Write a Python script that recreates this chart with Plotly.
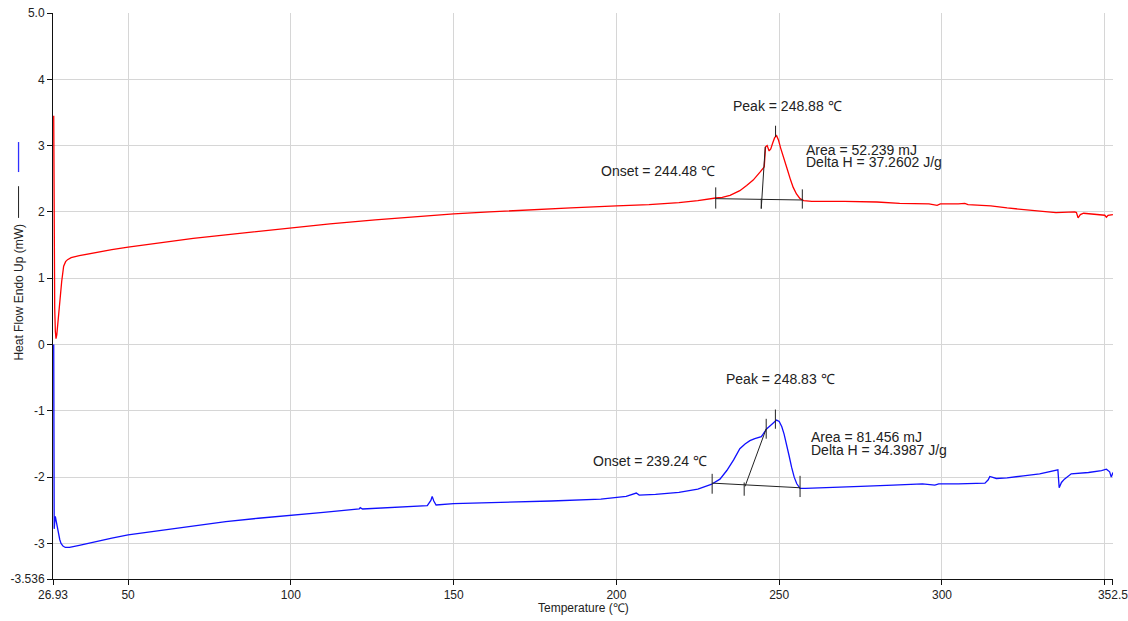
import plotly.graph_objects as go

# ---------------- data ----------------
red_temp = [27.15, 27.17, 27.2, 27.3, 27.45, 27.65, 27.85, 28.1, 28.5, 29.0, 29.6, 30.2, 30.8, 31.4,
            32.5, 35, 40, 45, 50, 60, 70, 80, 90, 100, 112, 125.9, 138, 150, 161, 172.5, 186, 200,
            210, 219.2, 225, 230.5, 232.5, 234.9, 237.9, 240, 242, 244.1, 245.4, 245.8, 246.3, 246.9,
            247.4, 248.0, 248.6, 249.2, 249.8, 250.4, 251.2, 252.5, 253.5, 254.3, 255.3, 256.4, 257.5,
            260, 270, 280, 287, 292, 296, 298.5, 299.5, 305, 307, 308, 315, 320, 330, 335, 340.8,
            341.3, 341.8, 342.5, 343.5, 346, 350, 350.5, 351, 352.5]
red_hf = [3.45, 2.8, 1.9, 1.15, 0.55, 0.2, 0.09, 0.15, 0.38, 0.62, 0.95, 1.18, 1.25, 1.28,
          1.31, 1.34, 1.39, 1.43, 1.47, 1.54, 1.60, 1.655, 1.71, 1.76, 1.82, 1.88, 1.93, 1.97, 2.00, 2.03, 2.06, 2.09,
          2.11, 2.14, 2.17, 2.21, 2.22, 2.25, 2.32, 2.40, 2.48, 2.60, 2.68, 2.98, 3.00, 2.92,
          2.95, 3.04, 3.12, 3.15, 3.08, 2.97, 2.83, 2.64, 2.48, 2.37, 2.27, 2.20, 2.17,
          2.16, 2.16, 2.15, 2.13, 2.12, 2.12, 2.10, 2.12, 2.12, 2.13, 2.11, 2.09, 2.06, 2.01, 1.99, 2.00,
          1.99, 1.91, 1.96, 1.98, 1.97, 1.95, 1.92, 1.95, 1.96]

blue_temp = [27.15, 27.17, 27.2, 27.3, 27.45, 27.65, 27.9, 28.3, 28.65, 29.0, 29.4, 30.0, 30.7, 32,
             35, 40, 45, 50, 60, 70, 80, 90, 100, 110, 121, 121.3, 122, 130, 141.9, 143.0, 143.4, 143.9,
             144.6, 150, 160, 169.9, 180, 195.2, 203, 206.1, 207, 212, 219.2, 225, 229.1, 231.8, 233.9,
             236, 237.9, 239.5, 241.0, 242.5, 244.5, 246.2, 247.7, 249.2, 250.0, 250.8, 251.5, 252.3,
             253.0, 253.8, 254.6, 255.4, 256.4, 258, 265, 275, 285, 294, 297.8, 299, 305, 313.2, 314.2,
             314.7, 316.7, 320, 325, 330, 335.6, 335.8, 336.0, 336.7, 337.6, 339.7, 345, 349, 350.5,
             351.5, 352.0, 352.5]
blue_hf = [0.0, -1.2, -2.3, -2.78, -2.68, -2.59, -2.66, -2.78, -2.86, -2.94, -3.0, -3.04, -3.06, -3.06,
           -3.03, -2.97, -2.92, -2.87, -2.80, -2.73, -2.67, -2.62, -2.58, -2.53, -2.48, -2.46, -2.48, -2.46, -2.43, -2.35, -2.29, -2.36,
           -2.42, -2.40, -2.39, -2.38, -2.36, -2.33, -2.29, -2.24, -2.27, -2.26, -2.23, -2.18, -2.11, -2.03, -1.90,
           -1.74, -1.57, -1.50, -1.45, -1.42, -1.39, -1.27, -1.20, -1.14, -1.16, -1.24, -1.35, -1.50,
           -1.67, -1.85, -2.00, -2.10, -2.17, -2.17, -2.16, -2.14, -2.12, -2.10, -2.12, -2.10, -2.10, -2.09, -2.04,
           -1.99, -2.02, -2.01, -1.98, -1.95, -1.89, -2.10, -2.16, -2.08, -2.03, -1.95, -1.93, -1.90, -1.88,
           -1.92, -2.00, -1.93]

# analysis construction lines (baseline, tangents, marker ticks); None separates segments
red_calc_t = [230.5, 257.1, None, 230.5, 230.5, None, 244.48, 244.48, None, 257.1, 257.1, None,
              244.48, 245.7, None, 248.88, 248.88]
red_calc_v = [2.20, 2.18, None, 2.37, 2.05, None, 2.20, 2.05, None, 2.34, 2.05, None,
              2.05, 2.98, None, 3.30, 3.13]
blue_calc_t = [229.4, 256.4, None, 229.4, 229.4, None, 239.24, 239.24, None, 256.4, 256.4, None,
               239.5, 246.0, None, 246.0, 246.0, None, 248.83, 248.83]
blue_calc_v = [-2.09, -2.16, None, -1.95, -2.25, None, -2.08, -2.28, None, -1.98, -2.30, None,
               -2.14, -1.27, None, -1.12, -1.42, None, -0.98, -1.27]

x_tick_vals = [26.93, 50, 100, 150, 200, 250, 300, 350, 352.5]
x_tick_text = ["26.93", "50", "100", "150", "200", "250", "300", "", "352.5"]
y_tick_vals = [-3.536, -3, -2, -1, 0, 1, 2, 3, 4, 5.0]
y_tick_text = ["-3.536", "-3", "-2", "-1", "0", "1", "2", "3", "4", "5.0"]

red_labels = ["Peak = 248.88 \u2103", "Area = 52.239 mJ", "Delta H = 37.2602 J/g", "Onset = 244.48 \u2103"]
blue_labels = ["Peak = 248.83 \u2103", "Area = 81.456 mJ", "Delta H = 34.3987 J/g", "Onset = 239.24 \u2103"]

# ---------------- figure ----------------
fig = go.Figure()
fig.add_trace(go.Scatter(x=red_temp, y=red_hf, mode="lines",
                         line=dict(color="#ff0000", width=1.3), hoverinfo="skip"))
fig.add_trace(go.Scatter(x=blue_temp, y=blue_hf, mode="lines",
                         line=dict(color="#1010ff", width=1.3), hoverinfo="skip"))
fig.add_trace(go.Scatter(x=red_calc_t, y=red_calc_v, mode="lines", connectgaps=False,
                         line=dict(color="#222222", width=1), hoverinfo="skip"))
fig.add_trace(go.Scatter(x=blue_calc_t, y=blue_calc_v, mode="lines", connectgaps=False,
                         line=dict(color="#222222", width=1), hoverinfo="skip"))

txt_font = dict(family="Liberation Sans, Arial, sans-serif", size=14, color="#222222")
ann = [
    dict(x=252.5, y=3.59, text=red_labels[0], xanchor="center"),
    dict(x=257.9, y=2.94, text=red_labels[1], xanchor="left"),
    dict(x=257.9, y=2.75, text=red_labels[2], xanchor="left"),
    dict(x=194.8, y=2.61, text=red_labels[3], xanchor="left"),
    dict(x=250.3, y=-0.52, text=blue_labels[0], xanchor="center"),
    dict(x=259.4, y=-1.39, text=blue_labels[1], xanchor="left"),
    dict(x=259.4, y=-1.59, text=blue_labels[2], xanchor="left"),
    dict(x=192.4, y=-1.76, text=blue_labels[3], xanchor="left"),
]
annotations = []
for a in ann:
    a.update(xref="x", yref="y", showarrow=False, yanchor="middle", font=txt_font,
             borderpad=0)
    annotations.append(a)

axis_font = dict(family="Liberation Sans, Arial, sans-serif", size=12, color="#222222")
annotations.append(dict(xref="paper", yref="paper", x=-0.0325, y=0.507, text="Heat Flow Endo Up (mW)",
                        textangle=-90, showarrow=False, xanchor="center", yanchor="middle", font=axis_font))
annotations.append(dict(xref="paper", yref="paper", x=0.5, y=-0.0512, text="Temperature (\u2103)",
                        showarrow=False, xanchor="center", yanchor="middle", font=axis_font))

shapes = [
    dict(type="line", xref="paper", yref="paper", x0=-0.0325, x1=-0.0325, y0=0.719, y1=0.772,
         line=dict(color="#3030ff", width=1.3)),
    dict(type="line", xref="paper", yref="paper", x0=-0.0325, x1=-0.0325, y0=0.638, y1=0.694,
         line=dict(color="#222222", width=1)),
]

fig.update_layout(
    width=1128, height=621,
    margin=dict(l=53, r=14.7, t=13, b=42, pad=0, autoexpand=False),
    plot_bgcolor="white", paper_bgcolor="white",
    showlegend=False,
    font=axis_font,
    annotations=annotations,
    shapes=shapes,
    xaxis=dict(range=[26.93, 352.53], tickmode="array", tickvals=x_tick_vals, ticktext=x_tick_text,
               showgrid=True, gridcolor="#d6d6d6", gridwidth=1, zeroline=False, automargin=False,
               showline=True, linecolor="#111111", linewidth=1, ticklabeloverflow="allow",
               ticks="outside", ticklen=5, tickcolor="#111111", tickfont=axis_font, layer="below traces"),
    yaxis=dict(range=[-3.536, 5.0], tickmode="array", tickvals=y_tick_vals, ticktext=y_tick_text,
               showgrid=True, gridcolor="#d6d6d6", gridwidth=1, zeroline=False, automargin=False,
               showline=True, linecolor="#111111", linewidth=1, ticklabeloverflow="allow",
               ticks="outside", ticklen=5, tickcolor="#111111", tickfont=axis_font, layer="below traces"),
)

fig.write_html("out.html")
